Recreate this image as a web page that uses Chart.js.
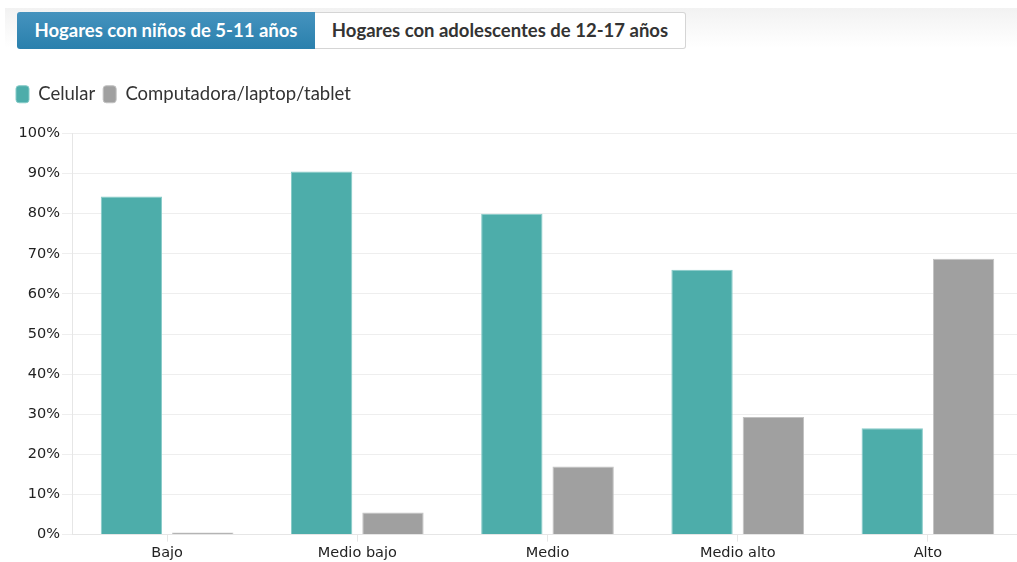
<!DOCTYPE html>
<html><head><meta charset="utf-8">
<script src="https://cdn.jsdelivr.net/npm/chart.js@4.4.0/dist/chart.umd.min.js"></script>
<style>
html,body{margin:0;padding:0;width:1017px;height:562px;overflow:hidden;background:#fff;}
#band{position:absolute;left:5px;top:8px;width:1012px;height:40px;background:linear-gradient(#f2f2f2,#fff);}
.tab{position:absolute;top:12px;height:37px;line-height:37px;font-family:Lato,"Open Sans",sans-serif;font-weight:bold;font-size:18.5px;text-align:center;box-sizing:border-box;}
#t1{left:17px;width:298px;background:linear-gradient(#4593be,#2a80ad);color:#fff;border-radius:3px 0 0 3px;}
#t2{left:315px;width:371px;background:#fff;color:#333;border:1px solid #d5d5d5;border-left:none;border-radius:0 3px 3px 0;line-height:35px;}
#wrap{position:absolute;left:0;top:72px;width:1023px;height:493px;}
</style></head><body>
<div id="band"></div>
<div class="tab" id="t1">Hogares con niños de 5-11 años</div>
<div class="tab" id="t2">Hogares con adolescentes de 12-17 años</div>
<div id="wrap"><canvas id="c"></canvas></div>
<script>
const categories = ["Bajo","Medio bajo","Medio","Medio alto","Alto"];
const celular = [84.3, 90.5, 80.0, 66.0, 26.5];
const computadora = [0.5, 5.5, 17.0, 29.3, 68.8];
const seriesNames = ["Celular","Computadora/laptop/tablet"];
const yTicks = [0,10,20,30,40,50,60,70,80,90,100];

new Chart(document.getElementById('c'), {
  type: 'bar',
  data: {
    labels: categories,
    datasets: [
      {label: seriesNames[0], data: celular, backgroundColor:'#4dadaa', borderColor:'#86cbc8', borderWidth:1,
       categoryPercentage:0.75, barPercentage:0.86},
      {label: seriesNames[1], data: computadora, backgroundColor:'#a0a0a0', borderColor:'#c2c2c2', borderWidth:1,
       categoryPercentage:0.75, barPercentage:0.86}
    ]
  },
  options: {
    responsive:true, maintainAspectRatio:false, animation:false,
    layout:{padding:{left:0,right:0,top:0,bottom:0}},
    plugins:{
      tooltip:{enabled:false},
      legend:{
        position:'top', align:'start',
        labels:{boxWidth:13, boxHeight:17, useBorderRadius:true, borderRadius:3, padding:8,
          color:'#333', font:{family:'Lato', size:18.5}},
      }
    },
    scales:{
      x:{
        grid:{display:true, offset:false, drawOnChartArea:false, color:'#e6e6e6', tickLength:7},
        border:{color:'#e6e6e6'},
        ticks:{color:'#222', font:{family:'DejaVu Sans', size:14.5}, padding:3}
      },
      y:{
        min:0, max:100,
        afterFit:(s)=>{s.width=72;},
        afterBuildTicks:(s)=>{s.ticks = yTicks.map(v=>({value:v}));},
        grid:{color:'#eeeeee', tickLength:10, drawTicks:true},
        border:{color:'#e6e6e6'},
        ticks:{color:'#222', font:{family:'DejaVu Sans', size:14.5}, padding:2, callback:(v)=>v+'%'}
      }
    }
  },
  plugins:[{id:'legendMargin',
    beforeInit(chart){const f=chart.legend.fit; chart.legend.fit=function(){f.bind(chart.legend)(); this.height+=25;};},
    afterLayout(chart){const l=chart.legend; l.left+=8; l.top+=5; if(l.legendHitBoxes) l.legendHitBoxes.forEach(h=>{h.left+=8;h.top+=5;});}
  }]
});
</script>
</body></html>
